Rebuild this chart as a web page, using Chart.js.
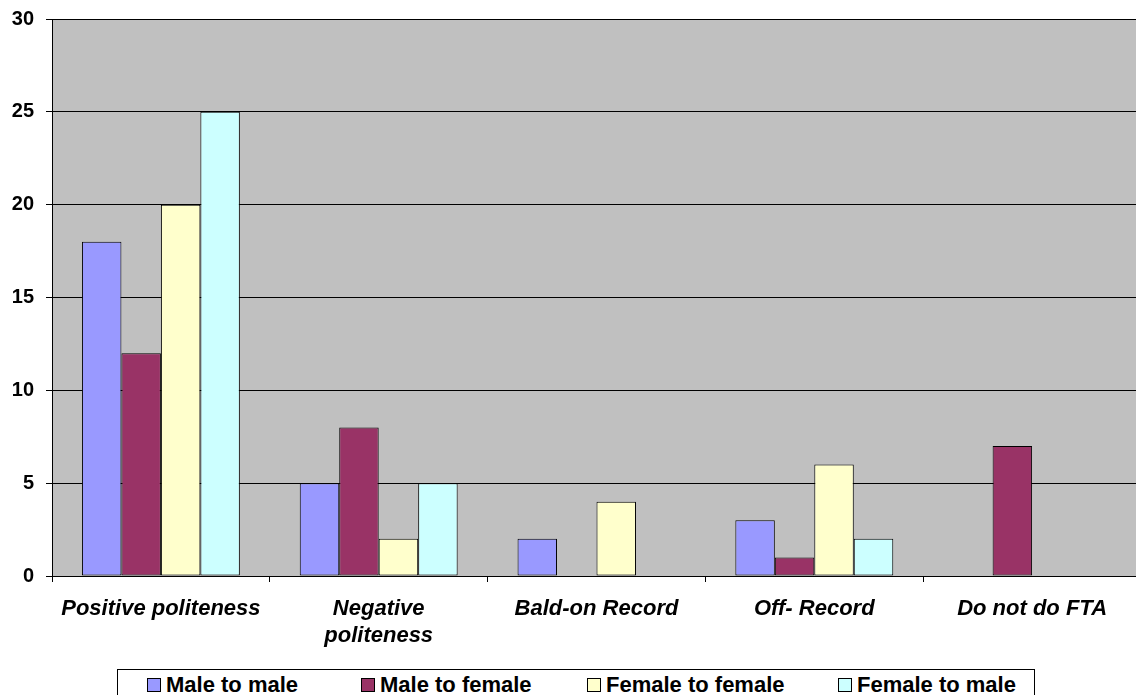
<!DOCTYPE html>
<html>
<head>
<meta charset="utf-8">
<script src="https://cdn.jsdelivr.net/npm/chart.js@4/dist/chart.umd.min.js"></script>
<style>
  html, body { margin: 0; padding: 0; background: #fff; overflow: hidden; width: 1136px; height: 695px; }
  #wrap { position: relative; width: 1136px; height: 695px; }
  #chart { position: absolute; left: 0; top: 0; }
  #legend {
    position: absolute; left: 117px; top: 669px; width: 918px; height: 40px;
    border: 1px solid #000; box-sizing: border-box; background: #fff;
    font: bold 22px "Liberation Sans", Arial, sans-serif; color: #000;
  }
  #legend .item { position: absolute; top: 3px; white-space: nowrap; line-height: 24px; }
  #legend .sw { display: inline-block; width: 12px; height: 12px; border: 1px solid #000; margin-right: 5px; vertical-align: 0px; }
</style>
</head>
<body>
<div id="wrap">
  <canvas id="chart" width="1141" height="660"></canvas>
  <div id="legend"></div>
</div>
<script>
// Politeness strategies by speaker/addressee gender
const categories = ['Positive politeness', ['Negative', 'politeness'], 'Bald-on Record', 'Off- Record', 'Do not do FTA'];
const maleToMale     = [18, 5, 2, 3, 0];
const maleToFemale   = [12, 8, 0, 1, 7];
const femaleToFemale = [20, 2, 4, 6, 0];
const femaleToMale   = [25, 5, 0, 2, 0];
const seriesNames  = ['Male to male', 'Male to female', 'Female to female', 'Female to male'];
const seriesColors = ['#9999FF', '#993366', '#FFFFCC', '#CCFFFF'];
const yTicks = [0, 5, 10, 15, 20, 25, 30];

const FONT = '"Liberation Sans", Arial, sans-serif';

// Gray plot background behind the bars and grid
const plotBackground = {
  id: 'plotBackground',
  beforeDraw(chart) {
    const { ctx, chartArea: a } = chart;
    ctx.save();
    ctx.fillStyle = '#C0C0C0';
    ctx.fillRect(a.left, a.top, a.right - a.left, a.bottom - a.top);
    ctx.restore();
  }
};

const seriesValues = [maleToMale, maleToFemale, femaleToFemale, femaleToMale];
const datasets = seriesValues.map((vals, i) => ({
  label: seriesNames[i],
  data: vals,
  backgroundColor: seriesColors[i],
  borderColor: '#000',
  borderWidth: c => (c.raw === 0 ? 0 : 1),
  borderSkipped: false,
  categoryPercentage: 0.725,
  barPercentage: 1.0
}));

const chart = new Chart(document.getElementById('chart'), {
  type: 'bar',
  data: { labels: categories, datasets },
  plugins: [plotBackground],
  options: {
    responsive: false,
    animation: false,
    devicePixelRatio: 1,
    layout: { padding: { top: 19, right: 0, left: 0, bottom: 0 } },
    plugins: { legend: { display: false }, tooltip: { enabled: false } },
    scales: {
      x: {
        grid: { drawOnChartArea: false, drawTicks: true, tickLength: 6, color: '#000', offset: true },
        border: { color: '#000', width: 1 },
        ticks: {
          color: '#000',
          padding: 13,
          maxRotation: 0,
          autoSkip: false,
          font: { family: FONT, size: 22, weight: 'bold', style: 'italic', lineHeight: 1.25 }
        },
        afterFit(s) { s.height = 84; s.paddingLeft = 0; s.paddingRight = 0; }
      },
      y: {
        min: 0,
        max: 30,
        afterBuildTicks(s) { s.ticks = yTicks.map(v => ({ value: v })); },
        grid: { color: '#000', lineWidth: 1, tickLength: 6 },
        border: { color: '#000', width: 1 },
        ticks: {
          color: '#000',
          padding: 12,
          font: { family: FONT, size: 20, weight: 'bold' }
        },
        afterFit(s) { s.width = 52; s.paddingTop = 0; s.paddingBottom = 0; }
      }
    }
  }
});

// Legend strip built from the chart's own datasets
const legendEl = document.getElementById('legend');
const itemLefts = [29, 243, 469, 720];
chart.data.datasets.forEach((ds, i) => {
  const item = document.createElement('span');
  item.className = 'item';
  item.style.left = itemLefts[i] + 'px';
  const sw = document.createElement('span');
  sw.className = 'sw';
  sw.style.background = ds.backgroundColor;
  item.appendChild(sw);
  item.appendChild(document.createTextNode(ds.label));
  legendEl.appendChild(item);
});
</script>
</body>
</html>
